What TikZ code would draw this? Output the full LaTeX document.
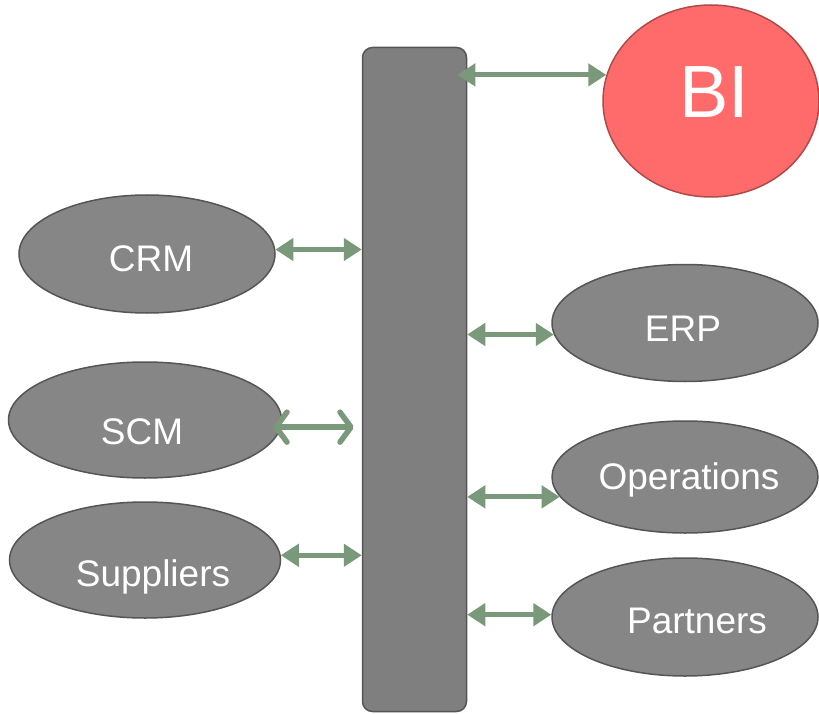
\documentclass[tikz,border=0pt]{standalone}
\usepackage{fontspec}
\setmainfont{Liberation Sans}
\usetikzlibrary{shapes.geometric,arrows.meta,positioning,calc}

\definecolor{nodegray}{HTML}{868686}
\definecolor{edgegray}{HTML}{555555}
\definecolor{bired}{HTML}{FF6B6B}
\definecolor{biedge}{HTML}{B04A4A}
\definecolor{linkgreen}{HTML}{7A997A}

\begin{document}
\begin{tikzpicture}[
        x=1pt, y=-1pt,
        sysnode/.style = {ellipse, draw=edgegray, line width=1.5pt, fill=nodegray, inner sep=0pt},
        binode/.style = {ellipse, draw=biedge, line width=1.5pt, fill=bired, inner sep=0pt},
        busbar/.style = {rectangle, rounded corners=10pt, draw=edgegray, line width=1.5pt, fill=nodegray!95!black, minimum width=104pt, minimum height=664pt},
        systext/.style = {inner sep=0pt, text=white, text height=26.5pt, text depth=0pt, font=\fontsize{37}{44}\selectfont},
        bitext/.style = {inner sep=0pt, text=white, text height=53pt, text depth=0pt, font=\fontsize{74}{80}\selectfont},
        line/.style = {draw=linkgreen, line width=5pt, {Triangle[length=18pt,width=22pt]}-{Triangle[length=18pt,width=22pt]}},
        line0/.style = {draw=linkgreen, line width=5.5pt, line cap=round, {Straight Barb[length=11pt,width=30pt,round]}-{Straight Barb[length=11pt,width=30pt,round]}}
    ]
        \useasboundingbox (0,0) rectangle (819,714);

        % Place nodes
        \node [busbar] at (414.5,379.5) (bar) {};
        \node [binode, minimum width=216pt, minimum height=192pt] at (711,101) (bi) {};
        \node [bitext] at (714,91.5) (bitxt) {BI};

        \node [sysnode, minimum width=256pt, minimum height=118pt] at (147,254) (crm) {};
        \node [systext] at (151,258.5) (crmtxt) {CRM};
        \node [sysnode, minimum width=273pt, minimum height=116pt] at (145,420) (scm) {};
        \node [systext] at (142,431) (scmtxt) {SCM};
        \node [sysnode, minimum width=271pt, minimum height=116pt] at (145,560) (suppliers) {};
        \node [systext] at (153,573.5) (supplierstxt) {Suppliers};

        \node [sysnode, minimum width=266pt, minimum height=117pt] at (685,323) (erp) {};
        \node [systext] at (683,328.5) (erptxt) {ERP};
        \node [sysnode, minimum width=266pt, minimum height=112pt] at (685,477) (operations) {};
        \node [systext] at (689,476.5) (operationstxt) {Operations};
        \node [sysnode, minimum width=266pt, minimum height=118pt] at (685,617) (partners) {};
        \node [systext] at (697,620.5) (partnerstxt) {Partners};

        % Draw edges
        \draw [line] ($(bar.east |- bi.166) + (-10,0)$) -- (bi.166);
        \draw [line] (crm.2) -- (crm.2 -| bar.west);
        \draw [line0] ($(scm.-3) + (-8,0)$) -- ($(scm.-3 -| bar.west) + (-8,0)$);
        \draw [line] (suppliers.2) -- (suppliers.2 -| bar.west);
        \draw [line] (bar.east |- erp.185) -- (erp.185);
        \draw [line] (bar.east |- operations.189) -- (operations.189);
        \draw [line] (bar.east |- partners.179) -- (partners.179);

    \end{tikzpicture}
\end{document}
